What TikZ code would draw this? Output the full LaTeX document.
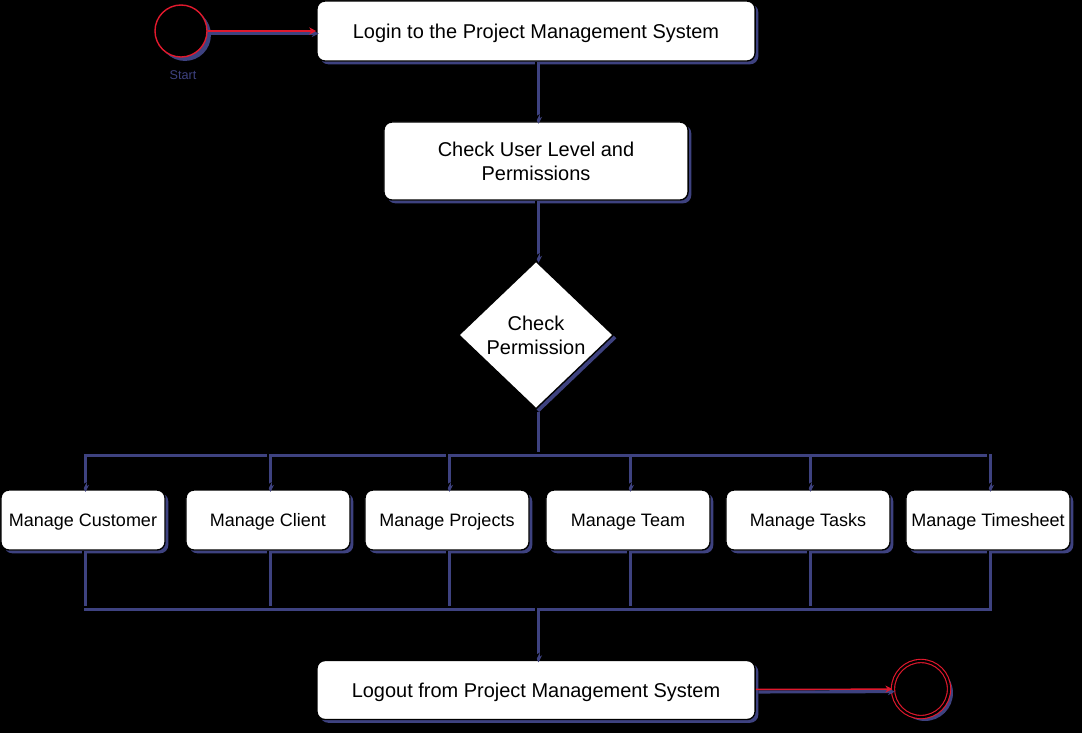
\documentclass[tikz,border=0pt]{standalone}
\usepackage{fontspec}
\setmainfont{Liberation Sans}
\usetikzlibrary{shapes.geometric, shadows, arrows.meta}
\definecolor{shadownavy}{RGB}{62,66,128}
\definecolor{statered}{RGB}{225,25,45}

\begin{document}
\begin{tikzpicture}[x=0.025cm, y=-0.025cm,
        font=\fontsize{14.2}{17}\selectfont,
        navyshadow/.style={drop shadow={shadow xshift=2.3pt, shadow yshift=-2.3pt, fill=shadownavy, opacity=1}},
        roundshadow/.style={drop shadow={shadow xshift=2.8pt, shadow yshift=-2.8pt, fill=shadownavy, opacity=1}},
        box/.style={draw=black, fill=white, rounded corners=0.2cm, line width=1pt,
            align=center, inner sep=2pt, navyshadow},
        wide/.style={box, minimum width=10.95cm, text height=13.2pt, text depth=3pt},
        taskbox/.style={box, minimum width=4.1cm, minimum height=1.5cm,
            font=\fontsize{12.8}{15}\selectfont, text height=11.9pt, text depth=2.7pt},
        decision/.style={diamond, draw=black, fill=white, line width=1pt, inner sep=0pt,
            minimum width=3.875cm, minimum height=3.7cm, align=center, navyshadow},
        startstate/.style={circle, draw=statered, fill=black, line width=1pt, inner sep=0pt,
            minimum size=1.3cm, roundshadow},
        endstate/.style={circle, draw=statered, fill=black, double=black, double distance=1.5pt,
            line width=0.8pt, inner sep=0pt, minimum size=1.4cm, roundshadow},
        flow/.style={draw=black, line width=1pt,
            preaction={draw=shadownavy, line width=2.2pt, transform canvas={shift={(1.8pt,-1.8pt)}}}},
        arrow/.style={flow, -{Stealth[length=5pt, width=5pt]}},
        redarrow/.style={arrow, draw=statered}
    ]
  % Background and page size
  \fill[black] (0,0) rectangle (1082,733);
  \useasboundingbox (0,0) rectangle (1082,733);

  %%% Top part
  \node[startstate] (start) at (181,31) {};
  \node[text=shadownavy, font=\fontsize{9}{10}\selectfont] (startlbl) at (183,75) {Start};
  \node[wide, minimum height=1.5cm] (login) at (536,31)
      {Login to the Project Management System};
  \node[box, minimum width=7.6cm, minimum height=1.95cm] (level) at (536,161)
      {Check User Level and\\Permissions};
  \node[decision] (perm) at (536,335) {Check\\Permission};

  \draw[redarrow] (start) -- (login);
  \draw[arrow] (login) -- (level);
  \draw[arrow] (level) -- (perm);

  %%% Row of tasks
  \foreach \name/\x/\txt in {cust/83/Manage Customer, client/268/Manage Client,
      proj/447/Manage Projects, team/628/Manage Team, tasks/808/Manage Tasks,
      sheet/988/Manage Timesheet}
    \node[taskbox] (\name) at (\x,520) {\txt};

  \coordinate (bustop) at (536,453);
  \coordinate (busbot) at (536,607);
  \foreach \name in {cust, client, proj, team, tasks, sheet} {
    \draw[arrow] (perm.south) |- (bustop) -| (\name.north);
    \draw[flow] (\name.south) |- (busbot);
  }

  %%% Bottom part
  \node[wide, minimum height=1.475cm] (logout) at (536,690)
      {Logout from Project Management System};
  \node[endstate] (stop) at (921,689) {};

  \draw[arrow] (busbot) -- (logout);
  \draw[redarrow] (logout) -- (stop);
\end{tikzpicture}
\end{document}
